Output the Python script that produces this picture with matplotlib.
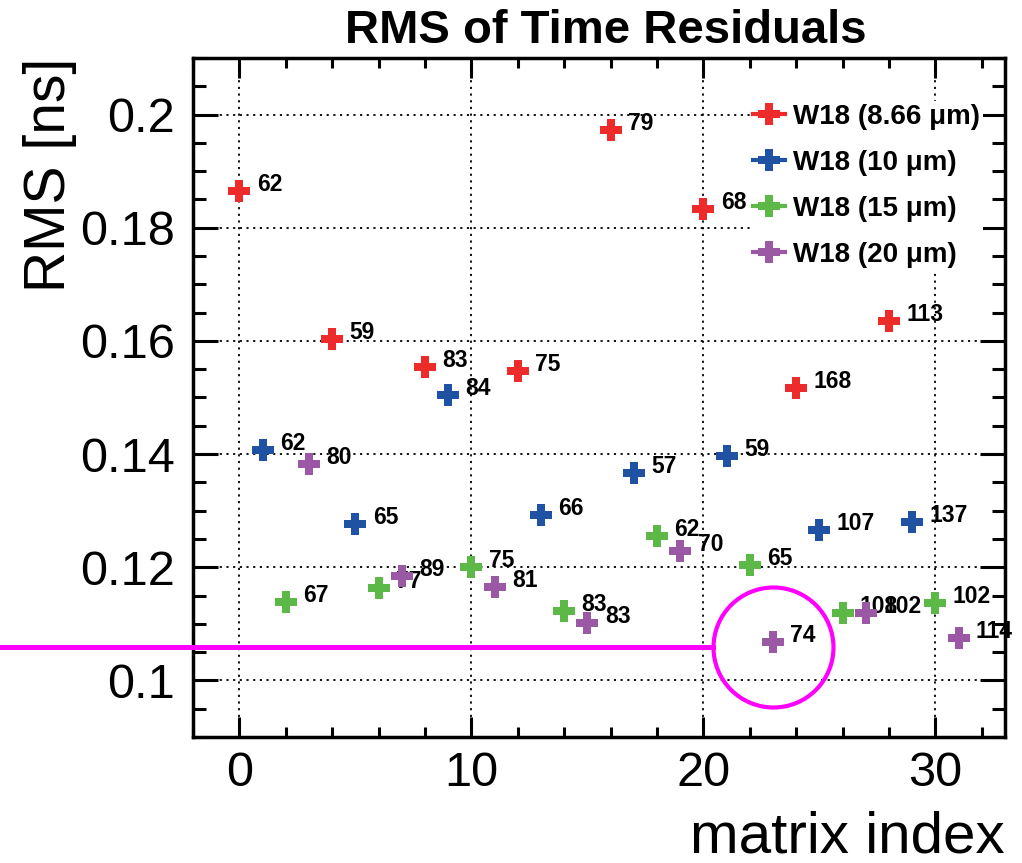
import matplotlib
matplotlib.use('Agg')
import matplotlib.pyplot as plt
from matplotlib.lines import Line2D
from matplotlib.ticker import MultipleLocator, FuncFormatter

plt.rcParams['font.family'] = ['Liberation Sans', 'DejaVu Sans']

# matrix index, RMS [ns] and entry counts for each pitch
idx_866 = [0, 4, 8, 12, 16, 20, 24, 28]
rms_866 = [0.1865, 0.1604, 0.1554, 0.1547, 0.1972, 0.1834, 0.1517, 0.1635]
n_866 = [62, 59, 83, 75, 79, 68, 168, 113]

idx_10 = [1, 5, 9, 13, 17, 21, 25, 29]
rms_10 = [0.1408, 0.1277, 0.1504, 0.1292, 0.1367, 0.1396, 0.1265, 0.1280]
n_10 = [62, 65, 84, 66, 57, 59, 107, 137]

idx_15 = [2, 6, 10, 14, 18, 22, 26, 30]
rms_15 = [0.1139, 0.1163, 0.1200, 0.1123, 0.1255, 0.1204, 0.1120, 0.1137]
n_15 = [67, 77, 75, 83, 62, 65, 108, 102]

idx_20 = [3, 7, 11, 15, 19, 23, 27, 31]
rms_20 = [0.1382, 0.1184, 0.1165, 0.1101, 0.1228, 0.1068, 0.1120, 0.1075]
n_20 = [80, 89, 81, 83, 70, 74, 102, 114]

labels = ['W18 (8.66 μm)', 'W18 (10 μm)', 'W18 (15 μm)', 'W18 (20 μm)']
colors = ['#ee2b2b', '#1f52a3', '#5cb947', '#9b59a5']

# highlighted point (magenta circle + line)
hl_idx = 23
hl_rms = 0.1059

series = [(idx_866, rms_866, n_866), (idx_10, rms_10, n_10),
          (idx_15, rms_15, n_15), (idx_20, rms_20, n_20)]

fig = plt.figure(figsize=(10.22, 8.63), dpi=100)
fig.subplots_adjust(left=193 / 1022, right=1005 / 1022, top=1 - 58 / 863, bottom=1 - 737 / 863)
ax = fig.add_subplot(111)

ax.set_xlim(-2, 33)
ax.set_ylim(0.09, 0.21)

for i, (xs, ys, ns) in enumerate(series):
    ax.plot(xs, ys, linestyle='none', marker='P', markersize=16, markeredgewidth=0,
            color=colors[i], zorder=3 + 2 * i)
    for x, y, n in zip(xs, ys, ns):
        ax.annotate(str(n), (x, y), xytext=(12.5, 0), textcoords='offset points',
                    ha='left', va='baseline', fontsize=16.5, fontweight='bold', zorder=4 + 2 * i)

# axes styling (ROOT look)
ax.xaxis.set_major_locator(MultipleLocator(10))
ax.xaxis.set_minor_locator(MultipleLocator(2))
ax.yaxis.set_major_locator(MultipleLocator(0.02))
ax.yaxis.set_minor_locator(MultipleLocator(0.005))
ax.yaxis.set_major_formatter(FuncFormatter(lambda v, p: '{:g}'.format(round(v, 4))))
ax.tick_params(which='both', direction='in', top=True, right=True, width=2.2, labelsize=35)
ax.tick_params(axis='x', which='major', length=14.5, pad=10)
ax.tick_params(axis='x', which='minor', length=7.2)
ax.tick_params(axis='y', which='major', length=18, pad=13)
ax.tick_params(axis='y', which='minor', length=9.4)
for s in ax.spines.values():
    s.set_linewidth(2.5)
ax.grid(True, which='major', color='black', linestyle=(0, (1.2, 2.5)), linewidth=1.3)
ax.set_axisbelow(True)

ax.set_title('RMS of Time Residuals', fontsize=34, fontweight='bold', pad=11, x=0.508)
ax.set_xlabel('matrix index', fontsize=42, loc='right')
ax.xaxis.set_label_coords(1.0, -0.108)
ax.set_ylabel('RMS [ns]', fontsize=41, loc='top')
ax.yaxis.set_label_coords(-0.143, 1.0)

handles = [Line2D([], [], color=c, marker='P', markersize=16, markeredgewidth=0, linewidth=3)
           for c in colors]
leg = ax.legend(handles, labels, loc='upper left', bbox_to_anchor=(750 / 1022, 1 - 101 / 863),
                bbox_transform=fig.transFigure, frameon=True, framealpha=1, edgecolor='none',
                facecolor='white', prop={'size': 20, 'weight': 'bold'}, handlelength=1.15,
                handletextpad=0.3, labelspacing=0.72, borderpad=0.1, borderaxespad=0)
leg.set_zorder(20)

# magenta highlight
fig.canvas.draw()
px_unit = ax.transData.transform((1, 0))[0] - ax.transData.transform((0, 0))[0]
radius_px = 60
x_left = ax.transData.inverted().transform((0, 0))[0]
ax.plot([hl_idx], [hl_rms], marker='o', markersize=2 * radius_px * 0.72, markerfacecolor='none',
        markeredgecolor='#ff00ff', markeredgewidth=3, clip_on=False, zorder=30)
ax.plot([x_left - 1, hl_idx - radius_px / px_unit], [hl_rms, hl_rms], color='#ff00ff',
        linewidth=3.6, clip_on=False, zorder=30)

fig.savefig('out.png', dpi=100)
